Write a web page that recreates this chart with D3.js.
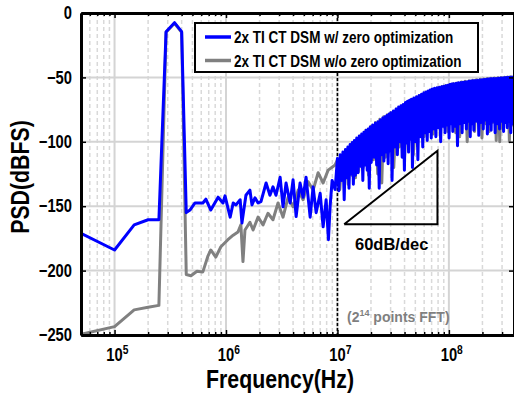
<!DOCTYPE html>
<html>
<head>
<meta charset="utf-8">
<script src="https://cdn.jsdelivr.net/npm/d3@7"></script>
<style>
  body { margin: 0; background: #fff; }
  svg { display: block; }
  text { font-family: "Liberation Sans", Arial, sans-serif; font-weight: bold; }
</style>
</head>
<body>
<div id="chart"></div>
<script>
// axis ticks
const xTicks = [1e5, 1e6, 1e7, 1e8];
const xTickExp = ["5", "6", "7", "8"];
const yTicks = [0, -50, -100, -150, -200, -250];
const legendLabels = ["2x TI CT DSM w/ zero optimization", "2x TI CT DSM w/o zero optimization"];

// low-frequency part (Hz, dBFS)
const withFreq = [5e4, 1e5, 1.5e5, 2e5, 2.5e5, 2.9e5, 3.45e5, 4.0e5, 4.4e5, 4.75e5,
  5.27e5, 6.2e5, 6.6e5, 7.3e5, 8.5e5, 9.4e5, 9.8e5, 1.09e6, 1.16e6, 1.23e6,
  1.34e6, 1.39e6, 1.51e6, 1.64e6, 1.71e6, 1.82e6, 1.94e6, 2.06e6, 2.29e6, 2.48e6,
  2.64e6, 2.81e6, 3.06e6, 3.25e6, 3.46e6, 3.76e6, 4.0e6, 4.26e6, 4.62e6, 4.92e6,
  5.23e6, 5.69e6, 6.05e6, 6.44e6, 7.0e6, 7.44e6, 7.92e6, 8.3e6, 8.6e6, 8.96e6, 9.53e6];
const withPsd = [-171, -184, -164.5, -160.5, -160.5, -14.5, -7.5, -14.5, -155, -153,
  -147.5, -147.5, -144.5, -153, -143, -147.5, -142, -158.5, -147.5, -149,
  -145, -163, -141.5, -137.5, -149, -143.5, -147.5, -146.5, -132, -141.5,
  -135, -141.5, -127.5, -150.5, -132, -147.5, -129.5, -158, -132, -143,
  -127.5, -158.5, -135, -155, -140, -166, -145, -176, -150, -130, -137];

const withoutFreq = [5e4, 1e5, 1.5e5, 2e5, 2.5e5, 2.9e5, 3.45e5, 4.0e5, 4.4e5, 4.85e5,
  5.49e5, 6.2e5, 6.9e5, 7.3e5, 8.1e5, 9.0e5, 1.04e6, 1.16e6, 1.28e6, 1.36e6,
  1.42e6, 1.48e6, 1.64e6, 1.75e6, 1.94e6, 2.15e6, 2.38e6, 2.64e6, 2.93e6, 3.25e6,
  3.61e6, 4.0e6, 4.44e6, 4.92e6, 5.46e6, 6.05e6, 6.71e6, 7.44e6, 8.25e6, 9.53e6];
const withoutPsd = [-249.5, -243.5, -230.5, -228.5, -227, -15, -8, -15, -203, -204,
  -200.5, -201, -188.5, -184, -189.5, -181.5, -176, -172.5, -170, -164.5,
  -193, -168.5, -162.5, -168.5, -158.5, -164.5, -155.5, -160.5, -147.5, -158.5,
  -143, -150.5, -137.5, -145, -131, -137.5, -124, -132, -122, -118];

// high-frequency noise band, w/ zero optimization (MHz, dBFS)
const withHfMHz = [10, 10.3, 10.6, 10.9, 11.2, 11.5, 11.8, 12.1, 12.4, 12.7,
  13.0, 13.3, 13.6, 13.9, 14.2, 14.5,
  14.9, 15.3, 15.7, 16.1, 16.5, 16.9, 17.3, 17.7, 18.1, 18.5, 18.9, 19.3, 19.7, 20.1,
  20.7, 21.3, 21.9, 22.5, 23.1, 23.7, 24.3, 24.9, 25.5, 26.1, 26.7, 27.3, 27.9, 28.5,
  29.1, 29.7, 30.3, 30.9,
  31.8, 32.7, 33.6, 34.5, 35.4, 36.3, 37.2, 38.1, 39.0, 39.9, 40.8, 41.7, 42.6, 43.5,
  44.4, 45.3, 46.2, 47.1,
  48.5, 49.9, 51.3, 52.7, 54.1, 55.5, 56.9, 58.3, 59.7, 61.1, 62.5, 63.9, 65.3, 66.7,
  68.1, 69.5, 70.9, 72.3,
  74.4, 76.4, 78.4, 80.4, 82.4, 84.4, 86.4, 88.4, 90.4, 92.4, 94.4, 96.4, 98.4, 100.4,
  102.4, 104.4, 106.4, 108.4, 110.4,
  113.5, 116.5, 119.5, 122.5, 125.5, 128.5, 131.5, 134.5, 137.5, 140.5, 143.5, 146.5,
  149.5, 152.5, 155.5, 158.5, 161.5, 164.5, 167.5,
  172, 176.5, 181, 185.5, 190, 194.5, 199, 203.5, 208, 212.5, 217, 221.5, 226, 230.5,
  235, 239.5, 244, 248.5, 253,
  260, 266.2, 272.4, 278.6, 284.8, 291, 297.2, 303.4, 309.6, 315.8, 322, 328.2, 334.4,
  340.6, 346.8, 353, 359.2, 365.4, 371.6, 377.8, 384];
const withHf = [-113, -138, -110, -130, -108, -145, -106, -128, -104, -136,
  -102, -125, -100.5, -133, -99, -126,
  -97, -124, -95.5, -119, -94, -130, -92.5, -118, -91, -122, -90, -136, -88.5, -116,
  -87, -112, -85.5, -118, -84.5, -136, -83, -110, -81.5, -115, -80.5, -108, -79.5, -117,
  -78.5, -107, -77.5, -130,
  -76, -104, -74.5, -110, -73, -100, -72, -112, -71, -122, -69.5, -101, -68.5, -108,
  -67.8, -98, -67, -120,
  -66, -100, -65, -114, -64, -96, -63, -104, -62, -93, -61.3, -99, -60.5, -92,
  -59.8, -97, -59, -90,
  -58.5, -96, -58, -89, -57.6, -100, -57.2, -88, -56.8, -93, -56.4, -87, -56, -97,
  -55.6, -86, -55.2, -92, -54.9,
  -88, -54.5, -103, -54.2, -86, -54, -93, -53.7, -85, -53.5, -90, -53.3,
  -84, -53, -96, -52.8, -86, -52.6, -91,
  -52.4, -84, -52.2, -95, -52, -85, -51.8, -90, -51.6, -83, -51.4, -94, -51.3, -86,
  -51.1, -91, -51, -84, -50.9,
  -93, -50.8, -86, -50.7, -90, -50.5, -84, -50.4, -92, -50.2, -85, -50.1, -89,
  -50, -84, -49.9, -93, -49.8, -86, -49.7, -49.7];

// high-frequency noise band, w/o zero optimization (MHz, dBFS)
const withoutHfMHz = [10, 10.5, 11, 11.5, 12, 12.5, 13, 13.5, 14, 14.5,
  15, 15.5, 16, 17, 18, 19, 20, 21, 22, 23,
  24, 25, 26, 27, 28, 29, 30, 32, 34, 36,
  38, 40, 42, 44, 46, 48, 50, 52, 54, 56,
  58, 60, 63, 66, 69, 72, 75, 78, 81, 84,
  87, 90, 94, 98, 102, 106, 110, 115, 120, 125,
  130, 135, 140, 146, 152, 158, 164, 170, 177, 184,
  191, 198, 206, 214, 222, 230, 239, 248, 257, 266,
  276, 286, 296, 306, 316, 327, 338, 349, 360, 372,
  384];
const withoutHf = [-114, -137, -111, -130, -107, -133, -104, -126, -101, -128,
  -98, -123, -95.5, -120, -91, -126, -88, -114, -85, -125,
  -82.5, -132, -80.5, -112, -79, -108, -77.5, -120, -74.5, -104,
  -72, -112, -69.5, -98, -67.5, -110, -66, -103, -64.5, -93,
  -63, -96, -61.5, -90, -60, -94, -59, -89, -58, -96,
  -57, -87, -56.3, -92, -55.5, -85, -55, -93, -54.3, -96,
  -53.6, -84, -53, -100, -52.6, -85, -52.2, -92, -51.8, -83,
  -51.5, -97, -51.2, -86, -50.9, -92, -50.6, -85, -50.4, -99,
  -50.2, -100, -50, -90, -49.8, -84, -49.6, -100, -49.4, -87,
  -49.3];

// 60 dB/dec slope triangle
const slopeFreq = [1.15e7, 7.9e7, 7.9e7, 1.15e7];
const slopePsd = [-164, -164, -107, -164];
const fftMarker = 1e7;

const width = 514, height = 394;
const margin = { top: 13, right: 0, bottom: 59, left: 81 };
const colors = ["#0000ff", "#808080"];
const squeeze = 0.82;   // condensed look of the original font

const svg = d3.select('#chart')
    .append('svg')
    .attr('width', width)
    .attr('height', height);

const x = d3.scaleLog()
    .domain([5e4, 3.84e8])
    .range([margin.left, width - margin.right]);
const y = d3.scaleLinear()
    .domain([-250, 0])
    .range([height - margin.bottom, margin.top]);

const plotTop = margin.top, plotBottom = height - margin.bottom;
const plotLeft = margin.left, plotRight = width - margin.right;

function narrowText(parent, px, py, size, extra = '') {
    return parent.append('text')
        .attr('transform', `translate(${px},${py}) ${extra} scale(${squeeze},1)`)
        .style('font-size', `${size}px`);
}

svg.append('clipPath').attr('id', 'plot-clip')
    .append('rect')
    .attr('x', plotLeft).attr('y', plotTop)
    .attr('width', plotRight - plotLeft).attr('height', plotBottom - plotTop);

// grid
const minor = x.ticks().filter(t => !xTicks.includes(t) && Math.abs(Math.log10(t) % 1) > 1e-6);
svg.append('g').selectAll('line')
    .data(minor)
    .enter().append('line')
    .attr('x1', d => x(d)).attr('x2', d => x(d))
    .attr('y1', plotTop).attr('y2', plotBottom)
    .attr('stroke', '#d9d9d9')
    .attr('stroke-width', 1.5)
    .attr('stroke-dasharray', '4,3');

svg.append('g').selectAll('line')
    .data(xTicks)
    .enter().append('line')
    .attr('x1', d => x(d)).attr('x2', d => x(d))
    .attr('y1', plotTop).attr('y2', plotBottom)
    .attr('stroke', '#d4d4d4')
    .attr('stroke-width', 2);

svg.append('g').selectAll('line')
    .data(yTicks.slice(1, -1))
    .enter().append('line')
    .attr('x1', plotLeft).attr('x2', plotRight)
    .attr('y1', d => y(d)).attr('y2', d => y(d))
    .attr('stroke', '#d4d4d4')
    .attr('stroke-width', 2);

// dotted marker at 10 MHz
svg.append('line')
    .attr('x1', x(fftMarker)).attr('x2', x(fftMarker))
    .attr('y1', plotTop).attr('y2', plotBottom)
    .attr('stroke', '#000')
    .attr('stroke-width', 1.6)
    .attr('stroke-dasharray', '3,2');

// traces
const lineGen = d3.line()
    .x(d => x(d.f))
    .y(d => y(d.v));

const grayData = withoutFreq.map((f, i) => ({ f, v: withoutPsd[i] }))
    .concat(withoutHfMHz.map((m, i) => ({ f: m * 1e6, v: withoutHf[i] })));
const blueData = withFreq.map((f, i) => ({ f, v: withPsd[i] }))
    .concat(withHfMHz.map((m, i) => ({ f: m * 1e6, v: withHf[i] })));

const traces = svg.append('g').attr('clip-path', 'url(#plot-clip)');
[grayData, blueData].forEach((data, i) => {
    traces.append('path')
        .attr('d', lineGen(data))
        .attr('fill', 'none')
        .attr('stroke', colors[1 - i])
        .attr('stroke-width', 3)
        .attr('stroke-linejoin', 'round');
});

// slope triangle
svg.append('path')
    .attr('d', lineGen(slopeFreq.map((f, i) => ({ f, v: slopePsd[i] }))))
    .attr('fill', 'none')
    .attr('stroke', '#000')
    .attr('stroke-width', 2);

svg.append('text')
    .attr('x', 355).attr('y', 250)
    .style('font-size', '16.5px')
    .text('60dB/dec');

const fft = svg.append('text')
    .attr('x', 347).attr('y', 322)
    .attr('fill', '#7f7f7f')
    .style('font-size', '14px');
fft.append('tspan').text('(2');
fft.append('tspan').attr('dy', -6).style('font-size', '9px').text('14');
fft.append('tspan').attr('dy', 6).text(' points FFT)');

// axes
const bottomAxis = svg.append('g')
    .attr('transform', `translate(0,${plotBottom})`);
bottomAxis.append('g')
    .call(d3.axisBottom(x).tickValues(minor).tickSize(-3).tickSizeOuter(0).tickFormat(''));
bottomAxis.append('g')
    .call(d3.axisBottom(x).tickValues(xTicks).tickSize(-5).tickSizeOuter(0).tickFormat(''));

const topAxis = svg.append('g')
    .attr('transform', `translate(0,${plotTop})`);
topAxis.append('g')
    .call(d3.axisTop(x).tickValues(minor).tickSize(-3).tickSizeOuter(0).tickFormat(''));
topAxis.append('g')
    .call(d3.axisTop(x).tickValues(xTicks).tickSize(-5).tickSizeOuter(0).tickFormat(''));

const leftAxis = svg.append('g')
    .attr('transform', `translate(${plotLeft},0)`)
    .call(d3.axisLeft(y).tickValues(yTicks).tickSize(-5).tickSizeOuter(0).tickPadding(11));
leftAxis.selectAll('text')
    .attr('transform', `scale(${squeeze},1)`)
    .style('font-size', '18px')
    .style('font-family', '"Liberation Sans", Arial, sans-serif')
    .style('font-weight', 'bold')
    .attr('fill', '#000');

svg.append('g')
    .attr('transform', `translate(${plotRight},0)`)
    .call(d3.axisRight(y).tickValues(yTicks).tickSize(-5).tickSizeOuter(0).tickFormat(''));

svg.selectAll('.domain').attr('stroke', '#000').attr('stroke-width', 3);
svg.selectAll('.tick line').attr('stroke', '#000').attr('stroke-width', 1.5);

// x tick labels with exponents
xTicks.forEach((t, i) => {
    const lab = narrowText(svg, x(t) - 8.2, 361, 18);
    lab.append('tspan').text('10');
    lab.append('tspan').attr('dy', -7).style('font-size', '12.5px').text(xTickExp[i]);
});

// axis titles
narrowText(svg, 280, 388, 26)
    .attr('text-anchor', 'middle')
    .text('Frequency(Hz)');

narrowText(svg, 29, 177, 26, 'rotate(-90)')
    .attr('text-anchor', 'middle')
    .text('PSD(dBFS)');

// legend
const legend = svg.append('g');
legend.append('rect')
    .attr('x', 195).attr('y', 23)
    .attr('width', 283).attr('height', 49)
    .attr('fill', '#fff')
    .attr('stroke', '#000')
    .attr('stroke-width', 2);

legendLabels.forEach((label, i) => {
    const ly = 37 + i * 23.5;
    legend.append('line')
        .attr('x1', 205).attr('x2', 231)
        .attr('y1', ly).attr('y2', ly)
        .attr('stroke', colors[i])
        .attr('stroke-width', 3.5);
    narrowText(legend, 234, ly + 6, 16.5).text(label);
});
</script>
</body>
</html>
